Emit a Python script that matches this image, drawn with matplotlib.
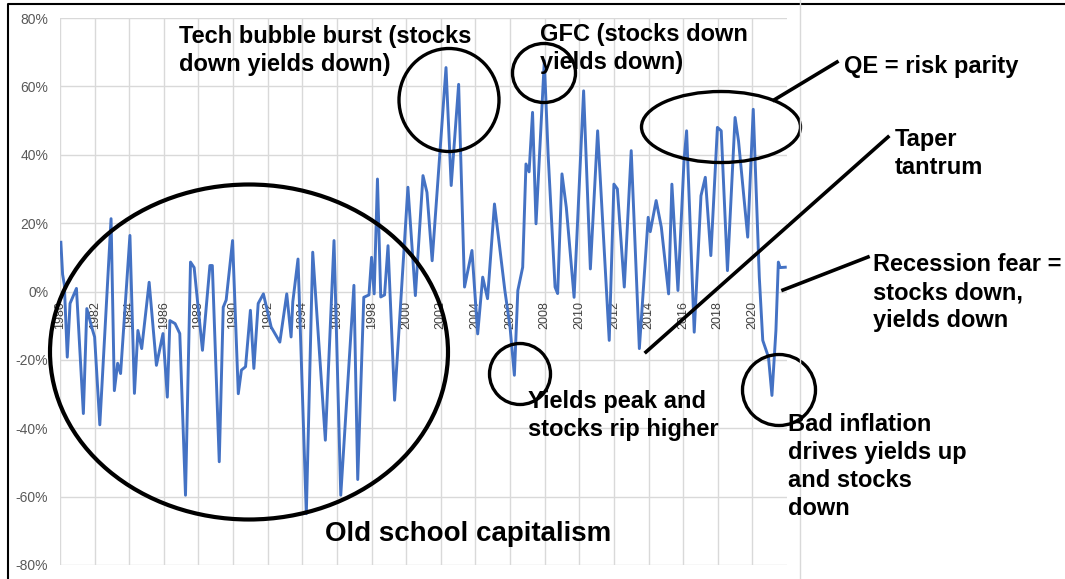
import matplotlib.pyplot as plt
from matplotlib.patches import Ellipse

# stock/bond correlation, turning points of the rolling series
years = [1980.05, 1980.15, 1980.25, 1980.42, 1980.58, 1980.95, 1981.35, 1981.55, 1981.83, 1982.0,
         1982.3, 1982.95, 1983.14, 1983.33, 1983.5, 1984.04, 1984.3, 1984.5, 1984.72, 1985.15,
         1985.57, 1985.95, 1986.2, 1986.35, 1986.65, 1986.92, 1987.25, 1987.54, 1987.75, 1988.23,
         1988.66, 1988.8, 1989.2, 1989.43, 1989.6, 1989.97, 1990.3, 1990.48, 1990.72, 1991.0,
         1991.2, 1991.45, 1991.75, 1992.2, 1992.7, 1993.1, 1993.35, 1993.45, 1993.75, 1994.23,
         1994.6, 1995.33, 1995.83, 1996.22, 1996.98, 1997.2, 1997.55, 1997.85, 1998.0, 1998.15,
         1998.34, 1998.53, 1998.75, 1998.95, 1999.33, 2000.1, 2000.53, 2000.97, 2001.2, 2001.5,
         2002.3, 2002.6, 2003.03, 2003.37, 2003.8, 2004.13, 2004.42, 2004.7, 2005.1, 2005.7,
         2006.0, 2006.25, 2006.45, 2006.73, 2006.92, 2007.1, 2007.3, 2007.5, 2007.98, 2008.2,
         2008.6, 2008.75, 2009.0, 2009.25, 2009.7, 2010.25, 2010.64, 2011.06, 2011.73, 2012.0,
         2012.2, 2012.6, 2013.0, 2013.47, 2013.98, 2014.1, 2014.44, 2014.74, 2015.16, 2015.35,
         2015.7, 2016.05, 2016.2, 2016.64, 2017.03, 2017.28, 2017.6, 2017.98, 2018.2, 2018.56,
         2019.0, 2019.2, 2019.73, 2020.05, 2020.4, 2020.6, 2020.93, 2021.13, 2021.36, 2021.5,
         2021.6, 2021.9]
corr = [14.4, 5, 2, -19.2, -3.5, 0.9, -35.7, -5, -10.4, -13.3,
        -39, 21.3, -29, -21, -24, 16.4, -29.8, -11.4, -16.7, 2.7,
        -21.6, -12.3, -30.9, -8.5, -9.4, -12.3, -59.6, 8.6, 7, -17.2,
        7.6, 7.6, -49.8, -4.6, -2.5, 14.9, -29.9, -23, -22, -5.5,
        -22.5, -3.5, -0.7, -10.4, -14.8, -0.7, -13.3, -3, 9.5, -65,
        11.5, -43.5, 14.9, -59.6, 1.8, -55, -1.7, -1, 10, -0.7,
        32.9, -1.6, -1, 13.4, -31.8, 30.5, -1.2, 33.9, 29, 9,
        65.5, 31, 60.6, 1.3, 12, -12.4, 4.2, -2.1, 25.6, 0.3,
        -10.4, -24.5, 0.3, 7.1, 37.3, 35, 52.4, 19.8, 67.5, 40,
        1.3, -0.6, 34.4, 24.6, -1.7, 58.7, 6.6, 47, -14.3, 31.4,
        30, 1.3, 41.2, -16.7, 21.7, 17.5, 26.6, 18.8, -0.7, 31.4,
        0.3, 38.3, 47, -11.9, 28, 33.4, 10.5, 48, 47, 6.1,
        50.9, 44, 15.9, 53.3, 4.2, -14.3, -19.2, -30.4, -11.4, 8.6,
        7, 7.1]

tick_years = list(range(1980, 2021, 2))
pct_ticks = list(range(-80, 81, 20))

W, H = 1065, 579
fig = plt.figure(figsize=(W / 100, H / 100), dpi=100)
plt.rcParams['font.family'] = ['Liberation Sans', 'DejaVu Sans']

ax = fig.add_axes([60 / W, 1 - 565 / H, 727 / W, 547 / H])
ax.plot(years, corr, color='#4472C4', lw=2.1, zorder=3, solid_joinstyle='round')
ax.set_xlim(1980, 2022)
ax.set_ylim(-80, 80)
ax.set_xticks(tick_years)
ax.set_xticklabels([str(y) for y in tick_years])
ax.set_yticks(pct_ticks)
ax.set_yticklabels([f'{v}%' for v in pct_ticks])
ax.spines['bottom'].set_position(('data', 0))
for s in ax.spines.values():
    s.set_visible(False)
ax.tick_params(axis='x', length=0, pad=7, labelrotation=90, labelsize=9, labelcolor='#404040')
ax.tick_params(axis='y', length=0, pad=8.5, labelsize=10, labelcolor='#595959')
ax.grid(True, color='#d9d9d9', lw=1)

# drawing layer in pixel units for the hand-drawn notes
ov = fig.add_axes([0, 0, 1, 1])
ov.set_xlim(0, W)
ov.set_ylim(H, 0)
ov.axis('off')
ov.patch.set_alpha(0)

ov.plot([8, 8, W], [H, 4, 4], color='black', lw=1.5)
ov.plot([800, 800], [0, H], color='#d9d9d9', lw=1)

circles = [
    ((249, 352), 398, 335, 3.0),   # old school
    ((449, 100), 100, 103, 2.4),   # tech bubble
    ((544, 73), 63, 59, 2.4),      # GFC
    ((721, 127), 159, 71, 2.4),    # QE
    ((520, 374), 61, 61, 2.4),     # yields peak
    ((779, 390), 73, 71, 2.4),     # bad inflation
]
for c, w, h, lw in circles:
    ov.add_patch(Ellipse(c, w, h, fill=False, ec='black', lw=lw))

ov.plot([774, 837], [100, 62], color='black', lw=2.6)
ov.plot([646, 888], [352, 137], color='black', lw=2.6)
ov.plot([783, 868], [290, 257], color='black', lw=2.6)

note = dict(fontsize=17, fontweight='bold', color='black', va='top', ha='left', linespacing=1.28)
ov.text(179, 25, 'Tech bubble burst (stocks\ndown yields down)', **note)
ov.text(540, 23, 'GFC (stocks down\nyields down)', **note)
ov.text(844, 55, 'QE = risk parity', **note)
ov.text(895, 128, 'Taper\ntantrum', **note)
ov.text(873, 253, 'Recession fear =\nstocks down,\nyields down', **note)
ov.text(528, 390, 'Yields peak and\nstocks rip higher', **note)
ov.text(788, 413, 'Bad inflation\ndrives yields up\nand stocks\ndown', **note)
ov.text(325, 521, 'Old school capitalism', fontsize=20, fontweight='bold', color='black',
        va='top', ha='left')

fig.savefig('out.png', dpi=100, facecolor='white')
